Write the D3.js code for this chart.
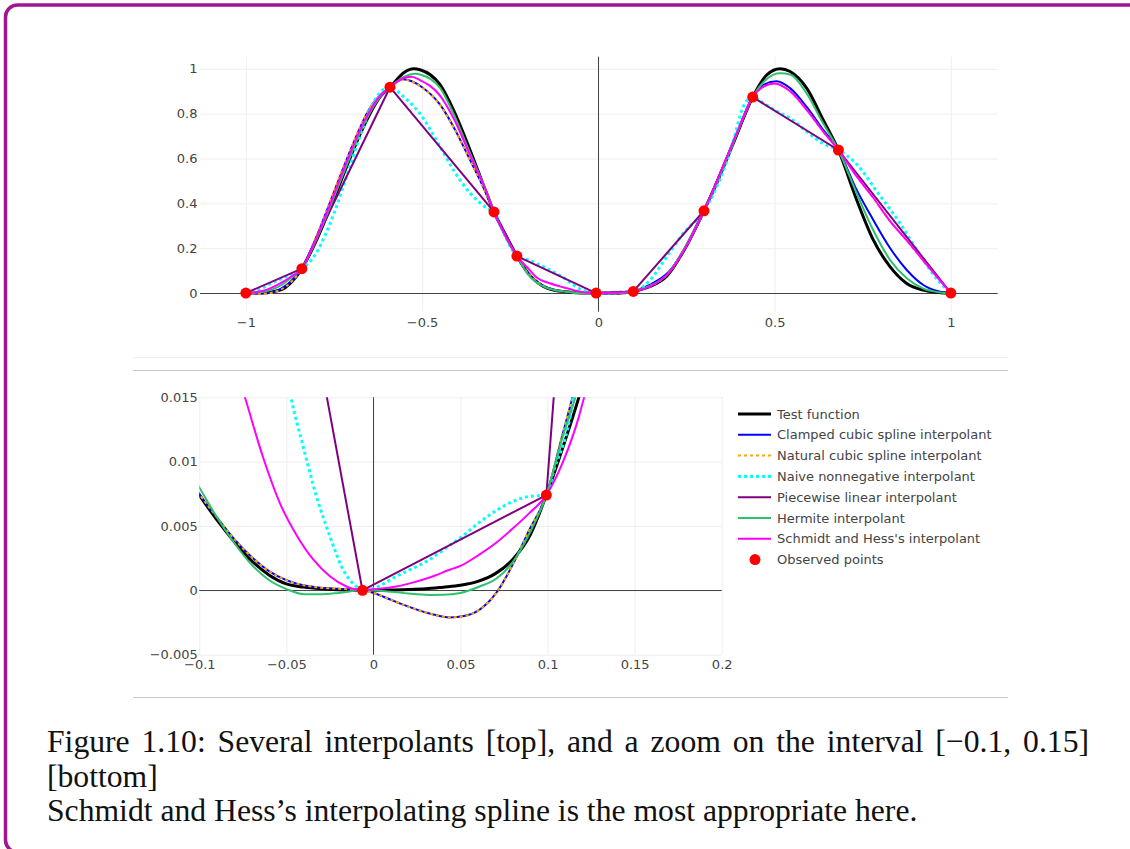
<!DOCTYPE html>
<html><head><meta charset="utf-8">
<script src="https://cdn.jsdelivr.net/npm/d3@7"></script>
<style>html,body{margin:0;padding:0;background:#fff;} svg{display:block}</style>
</head><body>
<svg id="c" width="1130" height="849"></svg>
<script>
// ---------------- DATA ----------------
const seriesNames = ["Test function", "Clamped cubic spline interpolant", "Natural cubic spline interpolant",
  "Naive nonnegative interpolant", "Piecewise linear interpolant", "Hermite interpolant", "Schmidt and Hess's interpolant"];
const observedLabel = "Observed points";

const xObs = [-1, -0.841, -0.591, -0.296, -0.231, -0.0063, 0.0993, 0.2998, 0.438, 0.681, 1];
const yObs = [0, 0.109, 0.918, 0.362, 0.165, 0, 0.0074, 0.367, 0.874, 0.638, 0];

const testFunction = [[-1,0],[-0.95,0.002],[-0.903,0.013],[-0.87,0.05],[-0.841,0.109],[-0.808,0.207],[-0.761,0.378],[-0.714,0.564],[-0.666,0.742],[-0.619,0.875],[-0.591,0.918],[-0.55,0.985],[-0.524,1.0],[-0.506,0.996],[-0.449,0.929],[-0.411,0.817],[-0.364,0.638],[-0.317,0.445],[-0.296,0.362],[-0.26,0.25],[-0.231,0.165],[-0.2,0.09],[-0.156,0.03],[-0.125,0.013],[-0.1,0.0074],[-0.09,0.0055],[-0.08,0.0038],[-0.07,0.0023],[-0.06,0.0012],[-0.05,0.0005],[-0.04,0.00025],[-0.03,0.00012],[-0.02,0.00005],[-0.0063,0],[0.01,0.00003],[0.02,0.00006],[0.03,0.00012],[0.04,0.00025],[0.05,0.0004],[0.06,0.0007],[0.07,0.0013],[0.08,0.0024],[0.09,0.0043],[0.0993,0.0074],[0.109,0.0112],[0.118,0.015],[0.147,0.03],[0.194,0.075],[0.241,0.185],[0.2998,0.367],[0.336,0.49],[0.383,0.668],[0.438,0.874],[0.478,0.973],[0.516,1.0],[0.544,0.988],[0.591,0.914],[0.638,0.772],[0.681,0.638],[0.733,0.415],[0.78,0.237],[0.828,0.117],[0.875,0.043],[0.922,0.013],[0.97,0.002],[1,0]];

const clampedSpline = [[-1,0],[-0.95,-0.002],[-0.9,0.02],[-0.87,0.055],[-0.841,0.109],[-0.8,0.25],[-0.75,0.45],[-0.7,0.65],[-0.65,0.82],[-0.591,0.918],[-0.554,0.953],[-0.5,0.918],[-0.449,0.84],[-0.411,0.742],[-0.364,0.594],[-0.317,0.44],[-0.296,0.362],[-0.26,0.245],[-0.231,0.165],[-0.2,0.09],[-0.156,0.032],[-0.125,0.014],[-0.1,0.0075],[-0.09,0.0057],[-0.08,0.004],[-0.07,0.0026],[-0.06,0.0015],[-0.05,0.0008],[-0.04,0.0004],[-0.03,0.0002],[-0.02,0.00012],[-0.0063,0],[0,-0.0002],[0.013,-0.0009],[0.0323,-0.0018],[0.044,-0.0021],[0.052,-0.002],[0.061,-0.0015],[0.0705,-0.0002],[0.08,0.002],[0.0895,0.0047],[0.0993,0.0074],[0.108,0.0118],[0.1143,0.015],[0.13,0.025],[0.15,0.04],[0.2,0.095],[0.25,0.21],[0.2998,0.367],[0.35,0.55],[0.4,0.74],[0.438,0.874],[0.47,0.93],[0.506,0.945],[0.544,0.914],[0.591,0.83],[0.638,0.728],[0.681,0.638],[0.733,0.46],[0.78,0.326],[0.828,0.2],[0.875,0.103],[0.922,0.036],[0.97,0.006],[1,0]];

const naturalSpline = [[-1,0],[-0.95,-0.003],[-0.9,0.016],[-0.87,0.052],[-0.841,0.109],[-0.8,0.252],[-0.75,0.452],[-0.7,0.652],[-0.65,0.82],[-0.591,0.918],[-0.554,0.952],[-0.5,0.916],[-0.449,0.838],[-0.411,0.74],[-0.364,0.592],[-0.317,0.44],[-0.296,0.362],[-0.26,0.245],[-0.231,0.165],[-0.2,0.09],[-0.156,0.032],[-0.125,0.014],[-0.1,0.0075],[-0.09,0.0057],[-0.08,0.004],[-0.07,0.0026],[-0.06,0.0015],[-0.05,0.0008],[-0.04,0.0004],[-0.03,0.0002],[-0.02,0.00012],[-0.0063,0],[0,-0.0002],[0.013,-0.0009],[0.0323,-0.0018],[0.044,-0.0021],[0.052,-0.002],[0.061,-0.0015],[0.0705,-0.0002],[0.08,0.002],[0.0895,0.0047],[0.0993,0.0074],[0.108,0.0118],[0.1143,0.015],[0.135,0.022],[0.15,0.032],[0.2,0.09],[0.25,0.21],[0.2998,0.367],[0.35,0.55],[0.4,0.74],[0.438,0.874],[0.47,0.922],[0.5,0.935],[0.544,0.9],[0.591,0.817],[0.638,0.72],[0.681,0.638],[0.733,0.52],[0.78,0.425],[0.828,0.32],[0.875,0.235],[0.922,0.145],[0.97,0.055],[1,0]];

const naiveNonneg = [[-1,0],[-0.95,0.025],[-0.92,0.05],[-0.87,0.085],[-0.841,0.109],[-0.808,0.16],[-0.761,0.31],[-0.714,0.52],[-0.666,0.745],[-0.638,0.85],[-0.619,0.895],[-0.591,0.918],[-0.553,0.876],[-0.506,0.8],[-0.449,0.653],[-0.411,0.549],[-0.364,0.446],[-0.317,0.38],[-0.296,0.362],[-0.26,0.24],[-0.231,0.165],[-0.2,0.148],[-0.17,0.128],[-0.14,0.105],[-0.12,0.088],[-0.1,0.07],[-0.08,0.047],[-0.065,0.03],[-0.0474,0.015],[-0.0404,0.0112],[-0.0327,0.0073],[-0.025,0.0042],[-0.0174,0.0016],[-0.0098,0.0003],[-0.0063,0],[0,0.00015],[0.0132,0.0011],[0.0323,0.0024],[0.0438,0.0035],[0.05,0.0041],[0.061,0.0053],[0.0705,0.0062],[0.08,0.0069],[0.0895,0.0073],[0.0993,0.0074],[0.1038,0.0094],[0.1114,0.0125],[0.115,0.015],[0.13,0.033],[0.147,0.058],[0.194,0.162],[0.241,0.266],[0.2998,0.367],[0.336,0.475],[0.383,0.68],[0.411,0.83],[0.438,0.874],[0.468,0.847],[0.506,0.81],[0.544,0.78],[0.591,0.72],[0.638,0.666],[0.681,0.638],[0.733,0.575],[0.794,0.445],[0.856,0.311],[0.922,0.147],[0.97,0.045],[1,0]];

const hermite = [[-1,0],[-0.95,0.006],[-0.9,0.035],[-0.87,0.07],[-0.841,0.109],[-0.808,0.21],[-0.761,0.385],[-0.714,0.57],[-0.666,0.75],[-0.619,0.875],[-0.591,0.918],[-0.55,0.965],[-0.52,0.978],[-0.506,0.975],[-0.449,0.915],[-0.411,0.8],[-0.364,0.625],[-0.317,0.45],[-0.296,0.362],[-0.26,0.24],[-0.231,0.165],[-0.2,0.085],[-0.156,0.03],[-0.125,0.014],[-0.1,0.008],[-0.09,0.0057],[-0.08,0.0037],[-0.07,0.002],[-0.06,0.0008],[-0.05,0.0001],[-0.04,-0.0003],[-0.03,-0.0003],[-0.02,-0.0002],[-0.0063,0],[0.01,-0.0001],[0.02,-0.00025],[0.0323,-0.00036],[0.04,-0.00035],[0.05,-0.0002],[0.061,0.0003],[0.0705,0.0009],[0.08,0.0022],[0.0895,0.0044],[0.0993,0.0074],[0.1086,0.0119],[0.116,0.015],[0.13,0.022],[0.147,0.033],[0.194,0.08],[0.241,0.19],[0.2998,0.367],[0.336,0.49],[0.383,0.67],[0.438,0.874],[0.478,0.955],[0.516,0.98],[0.544,0.975],[0.591,0.89],[0.638,0.756],[0.681,0.638],[0.733,0.445],[0.78,0.28],[0.828,0.147],[0.875,0.066],[0.922,0.02],[0.97,0.003],[1,0]];

const schmidtHess = [[-1,0],[-0.95,0.01],[-0.9,0.045],[-0.87,0.075],[-0.841,0.109],[-0.808,0.215],[-0.761,0.395],[-0.714,0.585],[-0.666,0.76],[-0.619,0.88],[-0.591,0.918],[-0.55,0.96],[-0.53,0.965],[-0.506,0.95],[-0.449,0.88],[-0.411,0.78],[-0.364,0.616],[-0.317,0.45],[-0.296,0.362],[-0.26,0.245],[-0.231,0.165],[-0.2,0.112],[-0.174,0.068],[-0.14,0.045],[-0.109,0.03],[-0.09,0.022],[-0.0738,0.015],[-0.0633,0.0103],[-0.0538,0.0068],[-0.0442,0.0043],[-0.0346,0.0024],[-0.025,0.0011],[-0.0155,0.0003],[-0.0063,0],[0,0.00008],[0.0132,0.0003],[0.0225,0.0006],[0.0323,0.001],[0.0438,0.0016],[0.05,0.0019],[0.061,0.0028],[0.0705,0.0037],[0.08,0.0048],[0.0895,0.006],[0.0993,0.0074],[0.1086,0.0099],[0.118,0.0135],[0.121,0.015],[0.135,0.022],[0.15,0.032],[0.2,0.09],[0.25,0.21],[0.2998,0.367],[0.35,0.55],[0.4,0.74],[0.438,0.874],[0.47,0.922],[0.5,0.935],[0.544,0.9],[0.591,0.817],[0.638,0.72],[0.681,0.638],[0.733,0.52],[0.78,0.425],[0.828,0.32],[0.875,0.235],[0.922,0.145],[0.97,0.055],[1,0]];

const topXTicks = [-1, -0.5, 0, 0.5, 1];
const topXLabels = ["−1", "−0.5", "0", "0.5", "1"];
const topYTicks = [0, 0.2, 0.4, 0.6, 0.8, 1];
const topYLabels = ["0", "0.2", "0.4", "0.6", "0.8", "1"];
const botXTicks = [-0.1, -0.05, 0, 0.05, 0.1, 0.15, 0.2];
const botXLabels = ["−0.1", "−0.05", "0", "0.05", "0.1", "0.15", "0.2"];
const botYTicks = [-0.005, 0, 0.005, 0.01, 0.015];
const botYLabels = ["−0.005", "0", "0.005", "0.01", "0.015"];

const captionLines = [
  "Figure 1.10:  Several interpolants [top], and a zoom on the interval [−0.1, 0.15]",
  "[bottom]",
  "Schmidt and Hess’s interpolating spline is the most appropriate here."
];

// ---------------- STYLE ----------------
const styles = [
  {color:"#000000", width:3, dash:null},
  {color:"#0000ff", width:2, dash:null},
  {color:"#ffa500", width:2, dash:"3,3"},
  {color:"#00ffff", width:3, dash:"3,3"},
  {color:"#800080", width:2, dash:null},
  {color:"#2ec16c", width:2, dash:null},
  {color:"#ff00ff", width:2, dash:null}
];
const curveData = [testFunction, clampedSpline, naturalSpline, naiveNonneg, null, hermite, schmidtHess];
const obsPts = xObs.map((x,i)=>[x, yObs[i]]);

const svg = d3.select("#c");
const W = 1130, H = 849;
svg.append("rect").attr("width",W).attr("height",H).attr("fill","#fff");

// frame
svg.append("rect").attr("x",5.5).attr("y",5).attr("width",1140).attr("height",847)
  .attr("rx",12).attr("fill","none").attr("stroke","#a0188c").attr("stroke-width",3.5);

// separators
svg.append("line").attr("x1",133).attr("x2",1008).attr("y1",357.5).attr("y2",357.5).attr("stroke","#eeeeee");
svg.append("line").attr("x1",133).attr("x2",1008).attr("y1",370.5).attr("y2",370.5).attr("stroke","#c8c8c8");
svg.append("line").attr("x1",133).attr("x2",1008).attr("y1",697.5).attr("y2",697.5).attr("stroke","#c8c8c8");

function panel(id, x, y, xt, xl, yt, yl, xpad, ypad) {
  const [x0,x1] = x.range(), [y0,y1] = y.range(); // y0 bottom
  const g = svg.append("g");
  g.append("clipPath").attr("id",id).append("rect")
    .attr("x",x0).attr("y",y1).attr("width",x1-x0).attr("height",y0-y1);
  const gx = g.append("g").attr("transform",`translate(0,${y0})`)
    .call(d3.axisBottom(x).tickValues(xt).tickFormat((d,i)=>xl[i]).tickSize(-(y0-y1)).tickPadding(xpad));
  const gy = g.append("g").attr("transform",`translate(${x0},0)`)
    .call(d3.axisLeft(y).tickValues(yt).tickFormat((d,i)=>yl[i]).tickSize(-(x1-x0)).tickPadding(ypad));
  [gx,gy].forEach(a=>{
    a.select(".domain").remove();
    a.selectAll(".tick line").attr("stroke","#eeeeee").attr("stroke-width",1);
    a.selectAll(".tick text").attr("fill","#444").attr("font-family","'DejaVu Sans', Verdana, sans-serif").attr("font-size",13);
  });
  g.append("line").attr("x1",x0).attr("x2",x1).attr("y1",Math.round(y(0))+0.5).attr("y2",Math.round(y(0))+0.5).attr("stroke","#444").attr("stroke-width",1);
  g.append("line").attr("x1",Math.round(x(0))+0.5).attr("x2",Math.round(x(0))+0.5).attr("y1",y1).attr("y2",y0).attr("stroke","#444").attr("stroke-width",1);
  const plot = g.append("g").attr("clip-path",`url(#${id})`);
  const line = d3.line().x(d=>x(d[0])).y(d=>y(d[1])).curve(d3.curveMonotoneX);
  const lin = d3.line().x(d=>x(d[0])).y(d=>y(d[1]));
  curveData.forEach((data,i)=>{
    const s = styles[i];
    const p = plot.append("path").attr("d", data ? line(data) : lin(obsPts))
      .attr("fill","none").attr("stroke",s.color).attr("stroke-width",s.width)
      .attr("stroke-linejoin","round");
    if (s.dash) p.attr("stroke-dasharray",s.dash);
  });
  g.append("g").selectAll("circle").data(obsPts).join("circle")
    .attr("cx",d=>x(d[0])).attr("cy",d=>y(d[1])).attr("r",5.5).attr("fill","#ff0000");
}

const xTop = d3.scaleLinear().domain([-1.13, 1.133]).range([200, 997.7]);
const yTop = d3.scaleLinear().domain([-0.083, 1.054]).range([311.7, 56.7]);
panel("clipTop", xTop, yTop, topXTicks, topXLabels, topYTicks, topYLabels, 6, 2.5);

const xBot = d3.scaleLinear().domain([-0.1, 0.2]).range([199.3, 721.7]);
const yBot = d3.scaleLinear().domain([-0.005, 0.015]).range([654.7, 397.3]);
panel("clipBot", xBot, yBot, botXTicks, botXLabels, botYTicks, botYLabels, 5.5, 1.5);

// legend
const leg = svg.append("g").attr("font-family","'DejaVu Sans', Verdana, sans-serif").attr("font-size",13);
const legY0 = 414, legDy = 20.8;
seriesNames.forEach((n,i)=>{
  const yy = legY0 + i*legDy, s = styles[i];
  const l = leg.append("line").attr("x1",738).attr("x2",771).attr("y1",yy).attr("y2",yy)
    .attr("stroke",s.color).attr("stroke-width",s.width);
  if (s.dash) l.attr("stroke-dasharray",s.dash);
  leg.append("text").attr("x",777).attr("y",yy).attr("dy","0.35em").attr("fill","#444").text(n);
});
{
  const yy = legY0 + seriesNames.length*legDy;
  leg.append("circle").attr("cx",755).attr("cy",yy).attr("r",5.5).attr("fill","#ff0000");
  leg.append("text").attr("x",777).attr("y",yy).attr("dy","0.35em").attr("fill","#444").text(observedLabel);
}

// caption
const cap = svg.append("g").attr("font-family","'Liberation Serif', 'DejaVu Serif', serif").attr("fill","#111");
const baselines = [752, 787, 821];
const t3 = cap.append("text").attr("x",47).attr("y",baselines[2]).attr("font-size",28).text(captionLines[2]);
const w3 = t3.node().getComputedTextLength();
const fs = 28 * 871 / w3;
t3.attr("font-size",fs);
const t2 = cap.append("text").attr("x",47).attr("y",baselines[1]).attr("font-size",fs).text(captionLines[1]);
const t1 = cap.append("text").attr("x",47).attr("y",baselines[0]).attr("font-size",fs).text(captionLines[0]);
const w1 = t1.node().getComputedTextLength();
const nSpaces = (captionLines[0].match(/ /g)||[]).length;
t1.style("word-spacing", ((1093-47) - w1)/nSpaces + "px");
</script></body></html>
